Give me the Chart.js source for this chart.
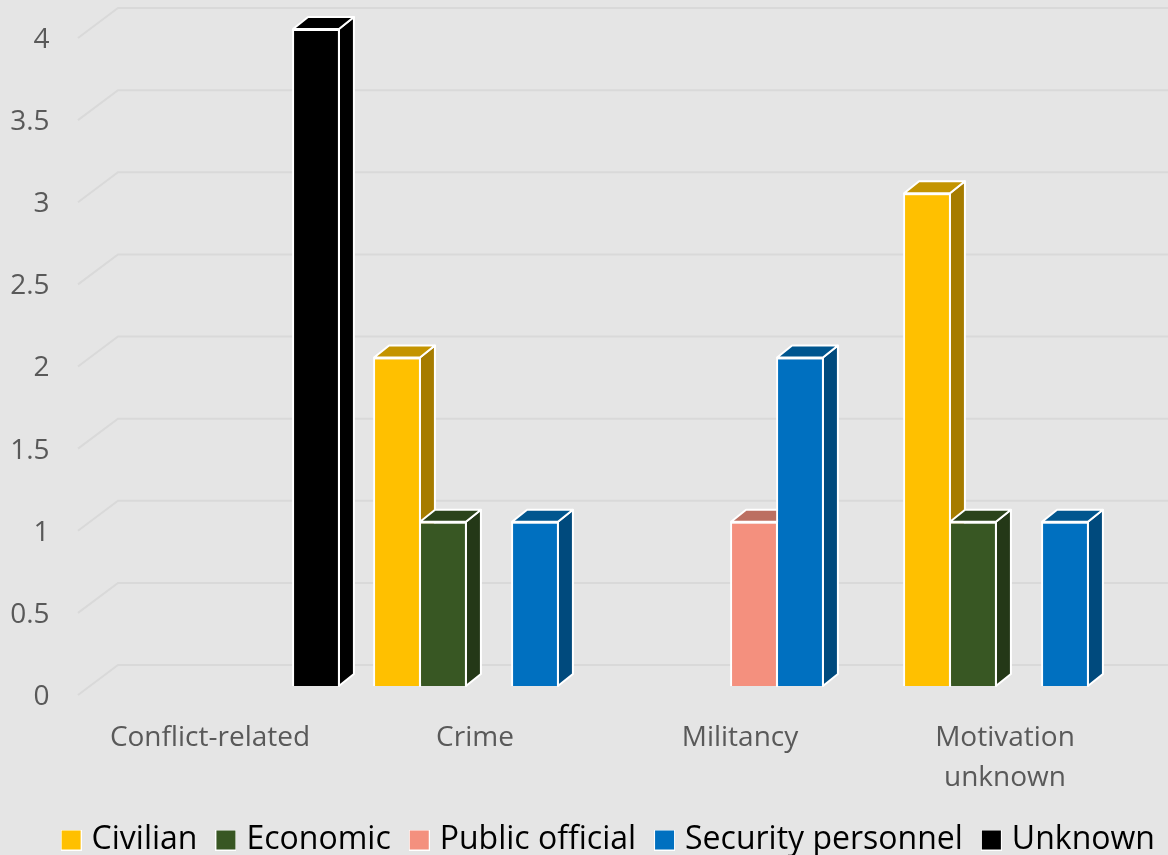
<!DOCTYPE html>
<html>
<head>
<meta charset="utf-8">
<style>
html,body{margin:0;padding:0;background:#e5e5e5;overflow:hidden}
#wrap{width:1168px;height:855px}
canvas{display:block}
</style>
<script src="https://cdn.jsdelivr.net/npm/chart.js@4"></script>
</head>
<body>
<div id="wrap"><canvas id="c" width="1168" height="855"></canvas></div>
<script>
const categories = ['Conflict-related', 'Crime', 'Militancy', ['Motivation', 'unknown']];
const seriesNames = ['Civilian', 'Economic', 'Public official', 'Security personnel', 'Unknown'];
const civilian = [null, 2, null, 3];
const economic = [null, 1, null, 1];
const publicOfficial = [null, null, 1, null];
const security = [null, 1, 2, 1];
const unknown = [4, null, null, null];
const frontColors = ['#FFC000', '#385723', '#F4907E', '#0070C0', '#000000'];
const sideColors = ['#A67C00', '#243817', '#9F5E52', '#004A7D', '#000000'];
const topColors = ['#C49400', '#2B431B', '#BC6F61', '#00568F', '#000000'];

const FONT = "'Open Sans'";
const DX = 15, DY = 12;

function square(color) {
  const cv = document.createElement('canvas');
  cv.width = 21; cv.height = 21;
  const g = cv.getContext('2d');
  g.fillStyle = '#ffffff'; g.fillRect(0, 0, 21, 21);
  g.fillStyle = color; g.fillRect(1, 1, 19, 19);
  return cv;
}

const box3d = {
  id: 'box3d',
  beforeDatasetsDraw(chart) {
    const ctx = chart.ctx;
    const y = chart.scales.y;
    ctx.save();
    ctx.strokeStyle = '#d9d9d9';
    ctx.lineWidth = 2;
    y.ticks.forEach(t => {
      const p = y.getPixelForValue(t.value);
      ctx.beginPath();
      ctx.moveTo(78, p + 9);
      ctx.lineTo(118, p - 21);
      ctx.lineTo(1168, p - 21);
      ctx.stroke();
    });
    ctx.restore();
    chart.data.datasets.forEach((ds, di) => {
      const meta = chart.getDatasetMeta(di);
      meta.data.forEach((el, i) => {
        if (ds.data[i] === null) return;
        const l = el.x - el.width / 2 + 1, r = el.x + el.width / 2 - 1, t = el.y, b = el.base;
        ctx.save();
        ctx.strokeStyle = '#ffffff';
        ctx.lineWidth = 2;
        ctx.lineJoin = 'round';
        ctx.fillStyle = sideColors[di];
        ctx.beginPath();
        ctx.moveTo(r, t); ctx.lineTo(r + DX, t - DY); ctx.lineTo(r + DX, b - DY); ctx.lineTo(r, b);
        ctx.closePath(); ctx.fill(); ctx.stroke();
        ctx.fillStyle = topColors[di];
        ctx.beginPath();
        ctx.moveTo(l, t); ctx.lineTo(l + DX, t - DY); ctx.lineTo(r + DX, t - DY); ctx.lineTo(r, t);
        ctx.closePath(); ctx.fill(); ctx.stroke();
        ctx.restore();
        el.draw(ctx);
      });
    });
    return false;
  },
  afterLayout(chart) {
    const lg = chart.legend;
    lg.top += 11; lg.bottom += 11;
    lg.left += 35; lg.right += 35;
  }
};

const seriesValues = [civilian, economic, publicOfficial, security, unknown];

new Chart(document.getElementById('c'), {
  type: 'bar',
  data: {
    labels: categories,
    datasets: seriesNames.map((name, i) => ({
      label: name,
      data: seriesValues[i],
      backgroundColor: frontColors[i],
      borderColor: '#ffffff',
      borderWidth: 2,
      barPercentage: 1.04,
      categoryPercentage: 230 / 265
    }))
  },
  options: {
    responsive: false,
    devicePixelRatio: 1,
    animation: false,
    layout: { padding: { top: 29, right: 16.5, left: 0, bottom: 0 } },
    plugins: {
      tooltip: { enabled: false },
      legend: {
        position: 'bottom',
        labels: {
          usePointStyle: true,
          pointStyleWidth: 9,
          boxHeight: 21,
          padding: 24,
          color: '#000000',
          font: { family: FONT, size: 32 },
          generateLabels(chart) {
            return Chart.defaults.plugins.legend.labels.generateLabels(chart).map((it, i) => {
              it.pointStyle = square(frontColors[i]);
              return it;
            });
          }
        }
      }
    },
    scales: {
      x: {
        grid: { display: false, drawTicks: false },
        border: { display: false },
        afterFit(s) { s.height = 103; s.paddingLeft = 0; s.paddingRight = 0; },
        ticks: {
          autoSkip: false, maxRotation: 0, minRotation: 0,
          labelOffset: -14, padding: 32,
          color: '#595959',
          font: { family: FONT, size: 28, lineHeight: 1.42 }
        }
      },
      y: {
        min: 0, max: 4,
        grid: { display: false, drawTicks: false },
        border: { display: false },
        afterFit(s) { s.width = 91.5; s.paddingTop = 0; s.paddingBottom = 0; },
        ticks: {
          stepSize: 0.5, labelOffset: 11, padding: 42,
          color: '#595959',
          font: { family: FONT, size: 28 },
          callback: v => String(v)
        }
      }
    }
  },
  plugins: [box3d]
});
</script>
</body>
</html>
